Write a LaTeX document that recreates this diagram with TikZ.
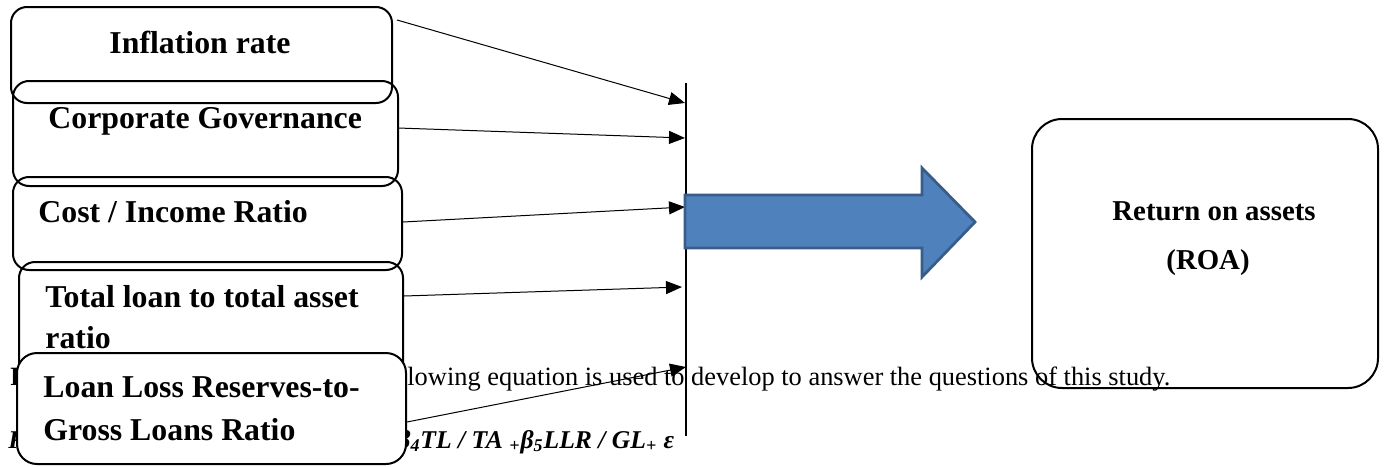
\documentclass[tikz,border=0pt]{standalone}
\usepackage{fontspec}
\setmainfont{Liberation Serif}
\usetikzlibrary{arrows.meta,fit}
\definecolor{arrowfill}{HTML}{4F81BD}
\definecolor{arrowline}{HTML}{385D8A}
\begin{document}
\begin{tikzpicture}[x=0.5pt,y=-0.5pt,
  box/.style={draw=black,line width=1pt,rounded corners=8pt,inner sep=0pt},
  lbl/.style={font=\fontsize{15.9}{20}\selectfont\bfseries,inner sep=0pt},
  body/.style={font=\fontsize{13.2}{16}\selectfont,inner sep=0pt},
  eqn/.style={font=\fontsize{12.8}{16}\selectfont\bfseries\itshape,inner sep=0pt},
  conn/.style={line width=0.5pt,-{Triangle[length=8pt,width=6.5pt]}},
  bigarrow/.style={fill=arrowfill,draw=arrowline,line width=1.4pt}]
\useasboundingbox (0,0) rectangle (1384,466);
% text of the page behind the diagram
\node[body,anchor=base west] (t1a) at (10,385) {\textbf{F}};
\node[body,anchor=base west] (t1) at (407,385) {lowing equation is used to develop to answer the questions of this study.};
\node[eqn,anchor=base west] (t2a) at (8,448) {R};
\node[eqn,anchor=base west] (t2) at (397,448) {β\textsubscript{4}TL / TA \textsubscript{+}β\textsubscript{5}LLR / GL\textsubscript{+} ε};
% boxes
\node[box,fit={(11,7)(392,103)}] (b1) {};
\node[box,fit={(13,81)(398,186)}] (b2) {};
\node[box,fit={(13,177)(402,270)}] (b3) {};
\node[box,fit={(19,262)(403,380)}] (b4) {};
\node[lbl,anchor=base] (l1) at (200,53) {Inflation rate};
\node[lbl,anchor=base west] (l2) at (48,128) {Corporate Governance};
\node[lbl,anchor=base west] (l3) at (38,222) {Cost / Income Ratio};
\node[lbl,anchor=base west] (l4a) at (45,307) {Total loan to total asset};
\node[lbl,anchor=base west] (l4b) at (45,348) {ratio};
\node[box,fill=white,rounded corners=10pt,fit={(17,353)(406,464)}] (b5) {};
\node[lbl,anchor=base west] (l5a) at (43,397) {Loan Loss Reserves-to-};
\node[lbl,anchor=base west] (l5b) at (43,440) {Gross Loans Ratio};
% result box
\node[box,rounded corners=15pt,fit={(1032,119)(1378,388)}] (roa) {};
\node[lbl,font=\fontsize{14.4}{18}\selectfont\bfseries,anchor=base] (r1) at (1214,220) {Return on assets};
\node[lbl,font=\fontsize{14.4}{18}\selectfont\bfseries,anchor=base] (r2) at (1208,269) {(ROA)};
% collecting line
\coordinate (vtop) at (686,83);
\coordinate (vbot) at (686,436);
\draw[line width=0.75pt] (vtop) -- (vbot);
% connectors
\coordinate (s1) at (397,20);  \coordinate (e1) at (685,103);
\coordinate (s2) at (398,128); \coordinate (e2) at (685,138);
\coordinate (s3) at (403,222); \coordinate (e3) at (685,207);
\coordinate (s4) at (404,296); \coordinate (e4) at (682,287);
\coordinate (s5) at (407,422); \coordinate (e5) at (686,367);
\draw[conn] (s1) -- (e1);
\draw[conn] (s2) -- (e2);
\draw[conn] (s3) -- (e3);
\draw[conn] (s4) -- (e4);
\draw[conn] (s5) -- (e5);
% block arrow
\draw[bigarrow] (685,195) -- (922,195) -- (922,168) -- (975,222) -- (922,277) -- (922,248) -- (685,248) -- cycle;
\end{tikzpicture}
\end{document}
